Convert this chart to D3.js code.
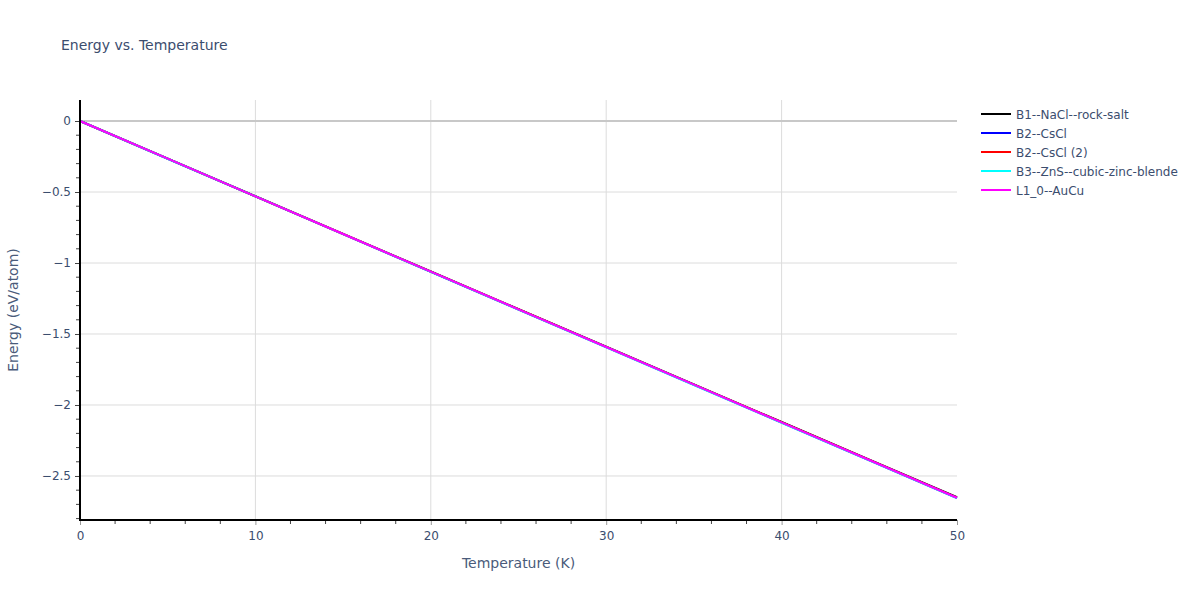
<!DOCTYPE html>
<html>
<head>
<meta charset="utf-8">
<script src="https://cdn.jsdelivr.net/npm/d3@7"></script>
<style>
  body { margin: 0; background: #fff; }
  svg { font-family: "DejaVu Sans", verdana, arial, sans-serif; }
</style>
</head>
<body>
<svg id="chart" width="1200" height="600"></svg>
<script>
// data
var temps = [0, 5, 10, 15, 20, 25, 30, 35, 40, 45, 50]
var seriesNames = ['B1--NaCl--rock-salt', 'B2--CsCl', 'B2--CsCl (2)', 'B3--ZnS--cubic-zinc-blende', 'L1_0--AuCu']
var seriesColors = ['#000000', '#0000ff', '#ff0000', '#00ffff', '#ff00ff']
var energyB1 = [0, -0.265, -0.530, -0.795, -1.060, -1.325, -1.590, -1.855, -2.120, -2.385, -2.650]
var energyB2 = [0, -0.2655, -0.531, -0.7965, -1.062, -1.3275, -1.593, -1.8585, -2.124, -2.3895, -2.655]
var energyB2b = [0, -0.2652, -0.5304, -0.7956, -1.0608, -1.326, -1.5912, -1.8564, -2.1216, -2.3868, -2.652]
var energyB3 = [0, -0.2656, -0.5312, -0.7968, -1.0624, -1.328, -1.5936, -1.8592, -2.1248, -2.3904, -2.656]
var energyL10 = [0, -0.2653, -0.5306, -0.7959, -1.0612, -1.3265, -1.5918, -1.8571, -2.1224, -2.3877, -2.653]
var seriesValues = [energyB1, energyB2, energyB2b, energyB3, energyL10]
var xTicks = [0, 10, 20, 30, 40, 50]
var yTicks = [0, -0.5, -1, -1.5, -2, -2.5]

var textColor = '#3b4d6e'
var svg = d3.select('#chart')
var mLeft = 80, mRight = 957, mTop = 100, mBottom = 520

var x = d3.scaleLinear().domain([0, 50]).range([mLeft, mRight])
var y = d3.scaleLinear().domain([0.148, -2.810]).range([mTop, mBottom])

// grid
svg.append('g').selectAll('line')
    .data(xTicks.slice(1, -1))
    .enter().append('line')
    .attr('x1', d => x(d)).attr('x2', d => x(d))
    .attr('y1', mTop).attr('y2', mBottom)
    .attr('stroke', '#dcdcdc').attr('stroke-width', 1)

svg.append('g').selectAll('line')
    .data(yTicks)
    .enter().append('line')
    .attr('x1', mLeft).attr('x2', mRight)
    .attr('y1', d => y(d)).attr('y2', d => y(d))
    .attr('stroke', d => d === 0 ? '#c8c8c8' : '#dcdcdc')
    .attr('stroke-width', d => d === 0 ? 2 : 1)

// lines
var line = d3.line()
    .x((d, i) => x(temps[i]))
    .y(d => y(d))

svg.append('g').selectAll('path')
    .data(seriesValues)
    .enter().append('path')
    .attr('d', line)
    .attr('fill', 'none')
    .attr('stroke', (d, i) => seriesColors[i])
    .attr('stroke-width', 2)

// axes
var xMinor = d3.range(0, 51, 2).filter(v => v % 10 !== 0)
var yMinor = d3.range(0, 29).map(v => -v / 10).filter(v => Math.abs(v * 2 - Math.round(v * 2)) > 1e-6)

var xAxis = d3.axisBottom(x).tickValues(xTicks).tickSize(5).tickPadding(6)
var gx = svg.append('g').attr('transform', 'translate(0,' + mBottom + ')').call(xAxis)
gx.select('.domain').remove()
gx.selectAll('.tick line').attr('stroke', '#999')
gx.selectAll('.tick text').attr('fill', textColor).style('font-size', '12px').style('font-family', '"DejaVu Sans", verdana, sans-serif')
gx.append('g').selectAll('line')
    .data(xMinor)
    .enter().append('line')
    .attr('x1', d => x(d)).attr('x2', d => x(d))
    .attr('y1', 0).attr('y2', 4)
    .attr('stroke', '#444')

var yAxis = d3.axisLeft(y).tickValues(yTicks).tickSize(5).tickPadding(4)
    .tickFormat(d => d === 0 ? '0' : '\u2212' + Math.abs(d))
var gy = svg.append('g').attr('transform', 'translate(' + mLeft + ',0)').call(yAxis)
gy.select('.domain').remove()
gy.selectAll('.tick line').attr('stroke', '#444')
gy.selectAll('.tick text').attr('fill', textColor).style('font-size', '12px').style('font-family', '"DejaVu Sans", verdana, sans-serif')
gy.append('g').selectAll('line')
    .data(yMinor)
    .enter().append('line')
    .attr('x1', -4).attr('x2', 0)
    .attr('y1', d => y(d)).attr('y2', d => y(d))
    .attr('stroke', '#444')

svg.append('line')
    .attr('x1', mLeft).attr('x2', mLeft).attr('y1', mTop).attr('y2', mBottom + 1)
    .attr('stroke', '#000').attr('stroke-width', 2)
svg.append('line')
    .attr('x1', mLeft - 1).attr('x2', mRight).attr('y1', mBottom).attr('y2', mBottom)
    .attr('stroke', '#000').attr('stroke-width', 2)

// titles
svg.append('text')
    .attr('x', 61).attr('y', 50)
    .attr('fill', textColor)
    .style('font-size', '14px')
    .text('Energy vs. Temperature')

svg.append('text')
    .attr('x', (mLeft + mRight) / 2).attr('y', 568)
    .attr('text-anchor', 'middle')
    .attr('fill', '#4a5b7a')
    .style('font-size', '14px')
    .text('Temperature (K)')

svg.append('text')
    .attr('transform', 'translate(18,' + ((mTop + mBottom) / 2) + ') rotate(-90)')
    .attr('text-anchor', 'middle')
    .attr('fill', '#4a5b7a')
    .style('font-size', '14px')
    .text('Energy (eV/atom)')

// legend
var legend = svg.append('g').attr('transform', 'translate(981,114)')
var items = legend.selectAll('g')
    .data(seriesNames)
    .enter().append('g')
    .attr('transform', (d, i) => 'translate(0,' + i * 19 + ')')
items.append('line')
    .attr('x1', 0).attr('x2', 30).attr('y1', 0).attr('y2', 0)
    .attr('stroke', (d, i) => seriesColors[i]).attr('stroke-width', 2)
items.append('text')
    .attr('x', 35).attr('y', 4.5)
    .attr('fill', textColor)
    .style('font-size', '12px')
    .text(d => d)
</script>
</body>
</html>
